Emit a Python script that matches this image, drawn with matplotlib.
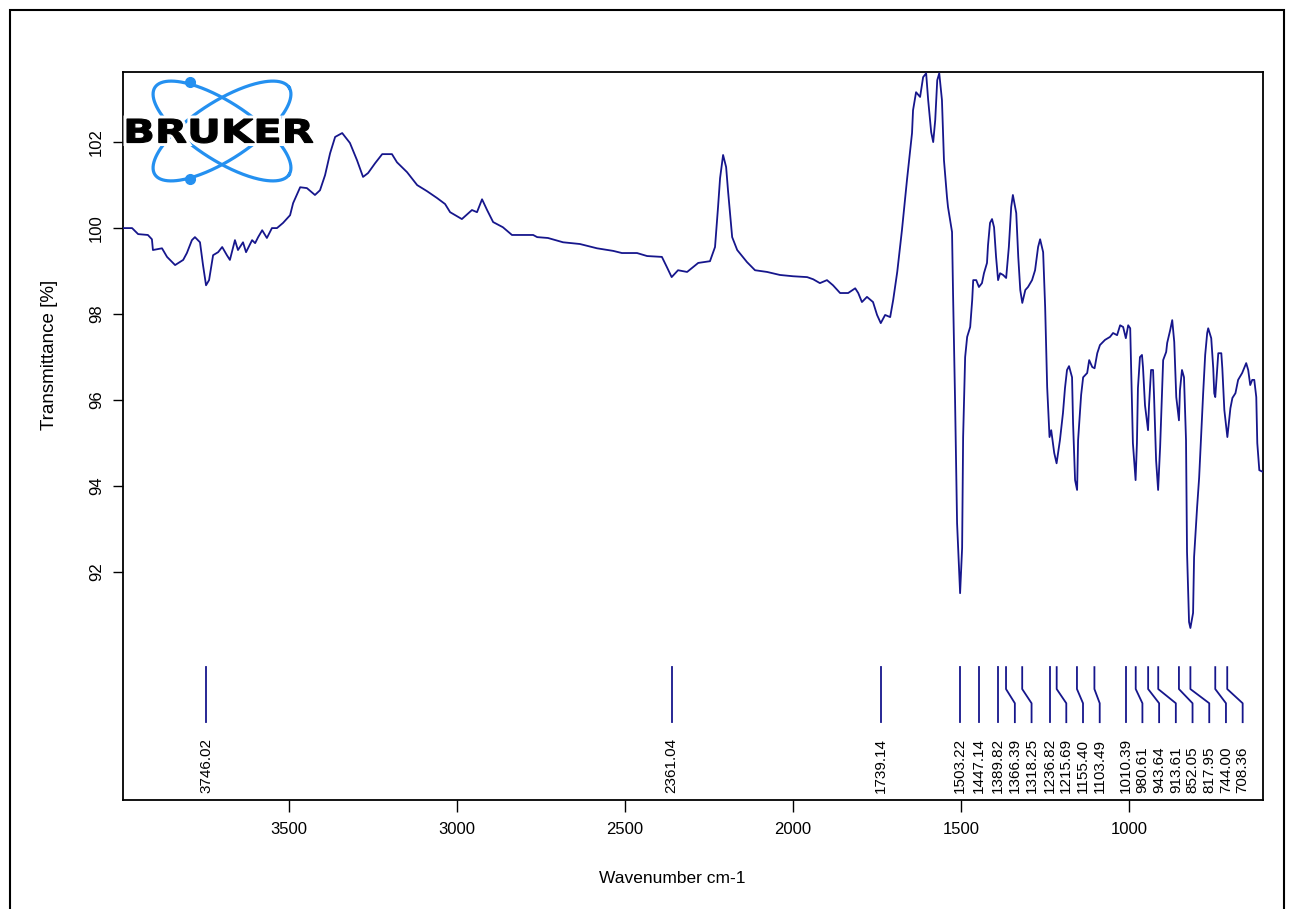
import numpy as np
import matplotlib
matplotlib.use("Agg")
import matplotlib.pyplot as plt
from matplotlib.lines import Line2D
from matplotlib.patches import PathPatch, Rectangle
from matplotlib.textpath import TextPath
from matplotlib.font_manager import FontProperties
from matplotlib.transforms import Affine2D

plt.rcParams['font.family'] = ['Liberation Sans', 'DejaVu Sans']

# spectrum (wavenumber cm-1, transmittance %)
wavenumber = [
    3993, 3966, 3948, 3919, 3907, 3904, 3877, 3862, 3838, 3814, 3803, 3788, 3779, 3764, 3755,
    3746, 3737, 3725, 3710, 3698, 3684, 3675, 3660, 3651, 3636, 3627, 3609, 3600, 3591, 3579,
    3565, 3550, 3535, 3517, 3496, 3487, 3466, 3446, 3422, 3407, 3392, 3377, 3362, 3341, 3318,
    3297, 3279, 3264, 3243, 3222, 3193, 3178, 3148, 3118, 3089, 3059, 3035, 3020, 2985, 2955,
    2940, 2925, 2910, 2892, 2863, 2836, 2773, 2761, 2729, 2684, 2634, 2583, 2535, 2509, 2464,
    2434, 2390, 2375, 2361, 2342, 2315, 2282, 2247, 2232, 2223, 2217, 2208, 2199, 2193, 2181,
    2166, 2137, 2113, 2077, 2039, 2000, 1958, 1940, 1920, 1899, 1881, 1860, 1836, 1815, 1806,
    1795, 1780, 1762, 1750, 1739, 1726, 1711, 1702, 1690, 1676, 1661, 1646, 1643, 1634, 1622,
    1613, 1604, 1598, 1589, 1583, 1577, 1571, 1565, 1557, 1551, 1542, 1539, 1527, 1524, 1518,
    1512, 1503, 1497, 1494, 1488, 1482, 1473, 1467, 1464, 1455, 1447, 1438, 1432, 1423, 1420,
    1414, 1408, 1402, 1396, 1390, 1384, 1375, 1366, 1358, 1351, 1346, 1336, 1330, 1324, 1318,
    1309, 1301, 1289, 1280, 1271, 1265, 1256, 1250, 1244, 1237, 1232, 1223, 1216, 1206, 1197,
    1191, 1185, 1179, 1170, 1167, 1161, 1155, 1152, 1143, 1137, 1125, 1119, 1110, 1103, 1095,
    1087, 1072, 1057, 1048, 1036, 1027, 1018, 1010, 1003, 997, 994, 989, 981, 977, 974,
    968, 962, 959, 953, 944, 941, 935, 929, 926, 920, 914, 908, 902, 899, 890,
    887, 878, 872, 866, 860, 852, 849, 843, 837, 831, 828, 822, 818, 810, 807,
    801, 798, 792, 786, 780, 774, 768, 765, 756, 750, 747, 744, 735, 726, 723,
    717, 708, 705, 699, 693, 684, 676, 664, 652, 646, 640, 634, 628, 622, 619,
    613, 602,
]
transmittance = [
    100.00, 100.00, 99.86, 99.84, 99.74, 99.49, 99.53, 99.33, 99.14, 99.26, 99.42, 99.72, 99.79, 99.67, 99.14,
    98.67, 98.79, 99.37, 99.44, 99.56, 99.37, 99.26, 99.72, 99.49, 99.67, 99.44, 99.72, 99.65, 99.79, 99.95,
    99.77, 100.00, 100.00, 100.12, 100.30, 100.58, 100.95, 100.93, 100.77, 100.88, 101.23, 101.74, 102.12, 102.21, 101.98,
    101.58, 101.19, 101.28, 101.51, 101.72, 101.72, 101.53, 101.30, 101.00, 100.86, 100.70, 100.56, 100.37, 100.21, 100.42,
    100.37, 100.67, 100.42, 100.14, 100.02, 99.84, 99.84, 99.79, 99.77, 99.67, 99.63, 99.53, 99.47, 99.42, 99.42,
    99.35, 99.33, 99.09, 98.86, 99.02, 98.98, 99.19, 99.23, 99.56, 100.49, 101.16, 101.70, 101.42, 100.84, 99.79,
    99.49, 99.21, 99.02, 98.98, 98.91, 98.88, 98.86, 98.81, 98.72, 98.79, 98.67, 98.49, 98.49, 98.60, 98.49,
    98.28, 98.40, 98.28, 97.98, 97.79, 97.98, 97.93, 98.33, 98.98, 99.95, 101.12, 102.21, 102.74, 103.16, 103.05,
    103.51, 103.60, 102.98, 102.23, 102.00, 102.51, 103.44, 103.60, 102.98, 101.58, 100.72, 100.49, 99.91, 98.49, 96.00,
    93.14, 91.51, 92.56, 95.14, 97.00, 97.47, 97.70, 98.33, 98.79, 98.79, 98.63, 98.72, 98.95, 99.19, 99.60,
    100.12, 100.21, 100.02, 99.33, 98.79, 98.95, 98.91, 98.84, 99.56, 100.49, 100.77, 100.35, 99.33, 98.56, 98.26,
    98.56, 98.63, 98.79, 99.02, 99.56, 99.74, 99.44, 98.16, 96.30, 95.14, 95.30, 94.77, 94.53, 95.07, 95.70,
    96.28, 96.70, 96.79, 96.53, 95.47, 94.14, 93.91, 95.07, 96.12, 96.53, 96.63, 96.93, 96.77, 96.74, 97.09,
    97.28, 97.40, 97.47, 97.56, 97.51, 97.74, 97.70, 97.44, 97.74, 97.67, 96.70, 95.00, 94.14, 95.00, 96.28,
    97.00, 97.05, 96.77, 95.88, 95.30, 95.88, 96.70, 96.70, 96.07, 94.60, 93.91, 94.91, 96.23, 96.93, 97.12,
    97.33, 97.63, 97.86, 97.35, 96.07, 95.53, 96.23, 96.70, 96.53, 95.07, 92.47, 90.84, 90.70, 91.05, 92.35,
    93.14, 93.51, 94.19, 95.19, 96.16, 97.05, 97.56, 97.67, 97.44, 96.74, 96.16, 96.07, 97.09, 97.09, 96.74,
    95.77, 95.14, 95.37, 95.81, 96.05, 96.16, 96.47, 96.63, 96.86, 96.70, 96.35, 96.47, 96.47, 96.07, 95.00,
    94.37, 94.33,
]

# peak table
peak_wn = [3746.02, 2361.04, 1739.14, 1503.22, 1447.14, 1389.82, 1366.39, 1318.25,
           1236.82, 1215.69, 1155.40, 1103.49, 1010.39, 980.61, 943.64, 913.61,
           852.05, 817.95, 744.00, 708.36]
peak_labels = ["%.2f" % p for p in peak_wn]

x_ticks = [3500, 3000, 2500, 2000, 1500, 1000]
y_ticks = [92, 94, 96, 98, 100, 102]

W, H = 1294, 909
line_color = '#16168c'

fig = plt.figure(figsize=(W / 100, H / 100), dpi=100)
ax = fig.add_axes([123 / W, 1 - 800 / H, 1140 / W, 728 / H])

ax.plot(wavenumber, transmittance, color=line_color, lw=1.3, zorder=3)
ax.set_xlim(3993, 602)
ax.set_ylim(86.70, 103.63)

# peak markers: labels pushed apart so they don't overlap
sep = 49.7
pos = []
for w in peak_wn:
    p = w if not pos else min(w, pos[-1] - sep)
    pos.append(p)

y_top, y_b1, y_b2, y_bot, y_txt = 89.79, 89.28, 88.95, 88.51, 86.86
for w, p, lab in zip(peak_wn, pos, peak_labels):
    if abs(p - w) < 0.01:
        ax.plot([w, w], [y_top, y_bot], color=line_color, lw=1.3)
    else:
        ax.plot([w, w, p, p], [y_top, y_b1, y_b2, y_bot], color=line_color, lw=1.3)
    ax.text(p, y_txt, lab, rotation=90, ha='center', va='bottom', fontsize=11)

ax.set_xticks(x_ticks)
ax.set_xticklabels([str(t) for t in x_ticks])
ax.set_yticks(y_ticks)
ax.set_yticklabels([str(t) for t in y_ticks], rotation=90, va='center')
ax.tick_params(axis='x', direction='out', length=8.5, width=1, pad=7, labelsize=12)
ax.tick_params(axis='y', direction='out', length=7.5, width=1, pad=6, labelsize=12)
for s in ax.spines.values():
    s.set_linewidth(1.3)

ax.set_xlabel('Wavenumber cm-1', fontsize=12.5)
ax.xaxis.set_label_coords(0.482, -0.097)
ax.set_ylabel('Transmittance [%]', fontsize=13.5)
ax.yaxis.set_label_coords(-0.057, 0.611)

# outer frame
fig.add_artist(Rectangle((10 / W, -0.01), 1274 / W, 1 - 10 / H + 0.01, fill=False,
                         ec='black', lw=1.5, transform=fig.transFigure))

# Bruker logo
t = np.linspace(0, 2 * np.pi, 300)
logo_blue = '#2490f0'
for ang in (33, -33):
    th = np.deg2rad(ang)
    ex = 222 + 80 * np.cos(t) * np.cos(th) - 29 * np.sin(t) * np.sin(th)
    ey = 131 + 80 * np.cos(t) * np.sin(th) + 29 * np.sin(t) * np.cos(th)
    fig.add_artist(Line2D(ex / W, 1 - ey / H, color=logo_blue, lw=2.3,
                          transform=fig.transFigure, zorder=4))
fig.add_artist(Line2D([190 / W, 190 / W], [1 - 82 / H, 1 - 179 / H], ls='none', marker='o',
                      ms=7, color=logo_blue, transform=fig.transFigure, zorder=4))

tp = TextPath((0, 0), 'BRUKER', size=1, prop=FontProperties(family='DejaVu Sans', weight='bold'))
bb = tp.get_extents()
tr = (Affine2D().translate(-bb.x0, -bb.y0)
      .scale(186 / bb.width / W, 24 / bb.height / H)
      .translate(127 / W, 1 - 143 / H) + fig.transFigure)
fig.add_artist(PathPatch(tp, fc='white', ec='white', lw=5, transform=tr, zorder=5))
fig.add_artist(PathPatch(tp, fc='black', ec='black', lw=0.8, transform=tr, zorder=6))

fig.savefig('out.png', dpi=100)
